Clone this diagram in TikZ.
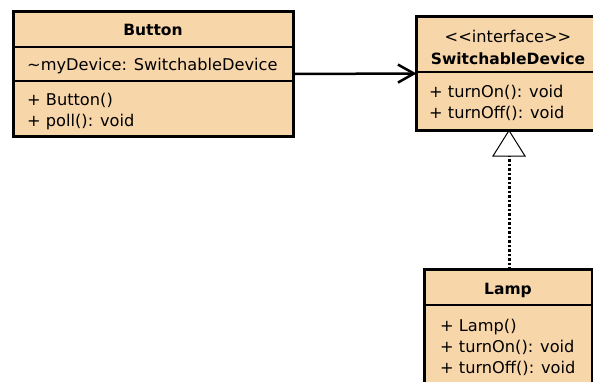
\documentclass[tikz,border=0pt]{standalone}
\usepackage{fontspec}
\setmainfont{DejaVu Sans}
\usetikzlibrary{arrows.meta}
\definecolor{classfill}{RGB}{247,214,170}
\tikzset{
  classbox/.style={draw=black, line width=3pt, fill=classfill, rectangle,
    inner sep=0pt, outer sep=0pt},
  sepline/.style={line width=1.5pt},
  member/.style={anchor=base west, inner sep=0pt, font=\fontsize{16.2}{19}\selectfont},
  title/.style={anchor=base, inner sep=0pt, font=\fontsize{15.5}{18}\selectfont\bfseries},
  stereo/.style={anchor=base, inner sep=0pt, font=\fontsize{16.2}{19}\selectfont},
  assoc/.style={line width=2.5pt, -{Straight Barb[length=16pt,width=18pt,line width=2.5pt]}},
  realize/.style={line width=3pt, dash pattern=on 2.5pt off 2pt},
}
\begin{document}
\begin{tikzpicture}[x=1pt,y=-1pt]
\useasboundingbox (0,0) rectangle (593,381);
\clip (0,0) rectangle (593,381);

% class Button
\node[classbox, minimum width=280pt, minimum height=125pt] (button) at (153,74) {};
\draw[sepline] (button.west |- 0,47) -- (button.east |- 0,47);
\draw[sepline] (button.west |- 0,81) -- (button.east |- 0,81);
\node[title] (bt) at (153,35) {Button};
\node[member] (ba) at (27,70) {\textasciitilde myDevice: SwitchableDevice};
\node[member] (bo1) at (27,105) {+ Button()};
\node[member] (bo2) at (27,126) {+ poll(): void};

% interface SwitchableDevice
\node[classbox, minimum width=178pt, minimum height=114pt] (sd) at (505.5,73.5) {};
\draw[sepline] (sd.west |- 0,72) -- (sd.east |- 0,72);
\node[stereo] (st) at (508,42) {{<}{<}interface{>}{>}};
\node[title] (sdt) at (508,64) {SwitchableDevice};
\node[member] (so1) at (429,97) {+ turnOn(): void};
\node[member] (so2) at (429,118) {+ turnOff(): void};

% class Lamp
\node[classbox, minimum width=168pt, minimum height=131pt] (lamp) at (508.5,335) {};
\draw[sepline] (lamp.west |- 0,305) -- (lamp.east |- 0,305);
\node[title] (lt) at (508,294) {Lamp};
\node[member] (lo1) at (440,331) {+ Lamp()};
\node[member] (lo2) at (440,352) {+ turnOn(): void};
\node[member] (lo3) at (440,373) {+ turnOff(): void};

% association Button -> SwitchableDevice
\draw[assoc] (button.east) -- (sd.west);

% realization Lamp -> SwitchableDevice
\coordinate (tribase) at (509,156);
\draw[realize] (lamp.north -| tribase) -- (tribase);
\draw[line width=1pt, fill=white, line join=miter]
  (sd.south -| tribase) -- ([xshift=16pt]tribase) -- ([xshift=-16pt]tribase) -- cycle;
\end{tikzpicture}
\end{document}
